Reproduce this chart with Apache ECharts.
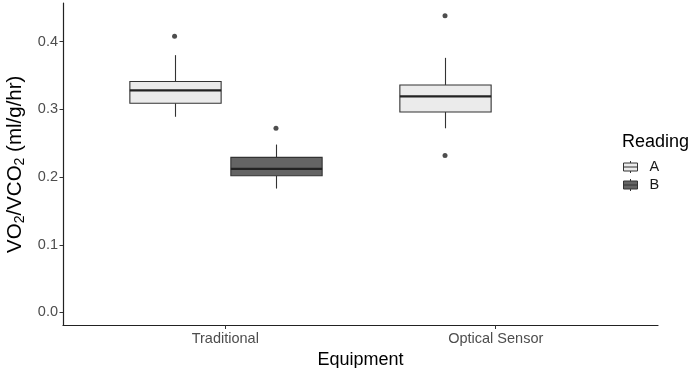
<!DOCTYPE html>
<html><head><meta charset="utf-8">
<script src="https://cdn.jsdelivr.net/npm/echarts@6/dist/echarts.min.js"></script>
<style>html,body{margin:0;padding:0;background:#fff}#c{width:693px;height:368px}</style>
</head><body><div id="c"></div>
<script>
// ---- data ----
const categories = ['Traditional', 'Optical Sensor'];
const readings = ['A', 'B'];
// [low whisker, Q1, median, Q3, high whisker] per category; null = no data
const statsA = [[0.289, 0.309, 0.328, 0.341, 0.380], [0.272, 0.296, 0.319, 0.336, 0.376]];
const statsB = [[0.183, 0.202, 0.212, 0.229, 0.248], null];
// [category index, value]
const outliersA = [[0, 0.408], [1, 0.438], [1, 0.232]];
const outliersB = [[0, 0.272]];
const yTicks = [0, 0.1, 0.2, 0.3, 0.4];

// ---- style ----
const FONT = 'Liberation Sans, Arial, sans-serif';
const fills = ['#ebebeb', '#646464'];
const dodge = [-0.1875, 0.1875];
const boxW = 0.3375;

function makeRender(offset, fill) {
  return function (params, api) {
    const x = api.value(0) + offset;
    const lo = api.coord([x, api.value(1)]);
    const q1 = api.coord([x, api.value(2)]);
    const md = api.coord([x, api.value(3)]);
    const q3 = api.coord([x, api.value(4)]);
    const hi = api.coord([x, api.value(5)]);
    const half = api.size([boxW, 0])[0] / 2;
    const cx = Math.round(lo[0]) + 0.5;
    const ls = { stroke: '#333', lineWidth: 1.1 };
    return { type: 'group', children: [
      { type: 'line', shape: { x1: cx, y1: hi[1], x2: cx, y2: q3[1] }, style: ls },
      { type: 'line', shape: { x1: cx, y1: q1[1], x2: cx, y2: lo[1] }, style: ls },
      { type: 'rect', shape: { x: cx - half, y: q3[1], width: 2 * half, height: q1[1] - q3[1] },
        style: { fill: fill, stroke: '#333', lineWidth: 1.1 } },
      { type: 'line', shape: { x1: cx - half, y1: md[1], x2: cx + half, y2: md[1] },
        style: { stroke: '#222', lineWidth: 2.2 } }
    ]};
  };
}

function boxData(stats) {
  const out = [];
  stats.forEach((s, i) => { if (s) out.push([i + 1].concat(s)); });
  return out;
}
function outData(list, k) {
  return list.map(([i, v]) => [i + 1 + dodge[k], v]);
}

const boxIcon = 'path://M0,2 L14,2 L14,10 L0,10 Z M0,6 L14,6 M7,0 L7,2 M7,10 L7,12';

const chart = echarts.init(document.getElementById('c'));
chart.setOption({
  animation: false,
  backgroundColor: '#fff',
  textStyle: { fontFamily: FONT },
  title: { text: 'Reading', left: 622, top: 133, padding: 0,
    textStyle: { fontSize: 18, fontWeight: 'normal', color: '#000', fontFamily: FONT } },
  legend: {
    orient: 'vertical', left: 623, top: 158, padding: 0,
    itemWidth: 14, itemHeight: 12, itemGap: 0,
    textStyle: { fontSize: 14.5, color: '#1a1a1a', lineHeight: 18, padding: [0, 0, 0, 7], fontFamily: FONT },
    data: readings.map((r, i) => ({ name: r, icon: boxIcon,
      itemStyle: { color: fills[i], borderColor: '#333', borderWidth: 1 } }))
  },
  grid: { left: 63, right: 35, top: 3, bottom: 42.5, outerBoundsMode: 'none', containLabel: false },
  xAxis: {
    type: 'value', min: 0.4, max: 2.6,
    name: 'Equipment', nameLocation: 'middle', nameGap: 22,
    nameTextStyle: { fontSize: 18, color: '#000', fontFamily: FONT },
    axisLine: { show: true, onZero: false, lineStyle: { color: '#222', width: 1.2 } },
    axisTick: { show: true, customValues: [1, 2], length: 3.5, lineStyle: { color: '#333' } },
    axisLabel: { customValues: [1, 2], fontSize: 14.5, color: '#4d4d4d', margin: 6,
      formatter: v => categories[Math.round(v) - 1] || '' },
    splitLine: { show: false }
  },
  yAxis: {
    type: 'value', min: -0.0192, max: 0.457,
    name: '{n|VO}{s|2}{n|/VCO}{s|2}{n| (ml/g/hr)}', nameLocation: 'middle', nameGap: 36,
    nameTextStyle: { color: '#000', fontFamily: FONT,
      rich: { n: { fontSize: 20.5, lineHeight: 24, color: '#000', fontFamily: FONT },
              s: { fontSize: 14, lineHeight: 13, verticalAlign: 'bottom', color: '#000', fontFamily: FONT } } },
    axisLine: { show: true, onZero: false, lineStyle: { color: '#222', width: 1.2 } },
    axisTick: { show: true, customValues: yTicks, length: 3.5, lineStyle: { color: '#333' } },
    axisLabel: { customValues: yTicks, fontSize: 14.5, color: '#4d4d4d', margin: 5,
      formatter: v => v.toFixed(1) },
    splitLine: { show: false }
  },
  series: [
    { name: 'A', type: 'custom', renderItem: makeRender(dodge[0], fills[0]),
      encode: { x: 0, y: [1, 2, 3, 4, 5] }, data: boxData(statsA), itemStyle: { color: fills[0] } },
    { name: 'B', type: 'custom', renderItem: makeRender(dodge[1], fills[1]),
      encode: { x: 0, y: [1, 2, 3, 4, 5] }, data: boxData(statsB), itemStyle: { color: fills[1] } },
    { name: 'A', type: 'scatter', symbolSize: 5, itemStyle: { color: '#222' }, data: outData(outliersA, 0) },
    { name: 'B', type: 'scatter', symbolSize: 5, itemStyle: { color: '#222' }, data: outData(outliersB, 1) }
  ]
});
</script></body></html>
